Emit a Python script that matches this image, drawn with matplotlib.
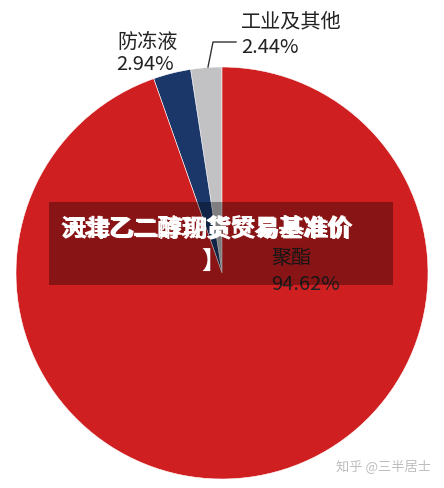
import matplotlib
matplotlib.use('Agg')
import matplotlib.pyplot as plt
from matplotlib.patches import Rectangle

plt.rcParams['font.family'] = ['Noto Sans CJK SC', 'DejaVu Sans']

# pie data (drawn counter-clockwise from the top)
labels = ['工业及其他', '防冻液', '聚酯']
shares = [2.44, 2.94, 94.62]
colors = ['#c2c2c4', '#1b3769', '#d01f20']

banner_a = '河北乙二醇现货贸易基准价'
banner_b = '天津乙二醇期货交易基准价'
watermark = '知乎 @三半居士'

W, H = 444, 489
fig = plt.figure(figsize=(W / 100, H / 100), dpi=100)
ax = fig.add_axes([0, 0, 1, 1])

# pixel coords (y down) -> axes coords (y up)
def py(y):
    return H - y

ax.pie(shares, colors=colors, startangle=90, counterclock=True,
       center=(222, py(274)), radius=206, frame=True,
       wedgeprops=dict(edgecolor='white', linewidth=0.4))
ax.set_xlim(0, W)
ax.set_ylim(0, H)
ax.axis('off')

txt = '#222222'
kw = dict(fontsize=14.5, color=txt, ha='left', va='center', fontweight='medium')
ax.text(241, py(22), labels[0], **kw)
ax.text(241, py(48), f'{shares[0]:.2f}%', **kw)
ax.text(117, py(42), labels[1], **kw)
ax.text(116, py(65), f'{shares[1]:.2f}%', **kw)
ax.text(271, py(259), labels[2], **kw)
ax.text(271, py(285), f'{shares[2]:.2f}%', **kw)

# leader line for the small grey slice
ax.plot([208, 213, 236], [py(68), py(43), py(43)], color='#333333', lw=1)

# dark translucent banner over the chart
ax.add_patch(Rectangle((49, py(286)), 344, 83, facecolor='black', alpha=0.34,
                       edgecolor='none', zorder=5))
ax.text(206, py(228), banner_a, fontsize=17.5, fontweight='heavy', color='white',
        ha='center', va='center', zorder=6)
ax.text(208, py(229), banner_b, fontsize=17.5, fontweight='heavy', color='white',
        ha='center', va='center', zorder=6)
ax.text(213, py(262), '】', fontsize=17.5, fontweight='heavy', color='white',
        ha='center', va='center', zorder=6)

ax.text(384, py(466), watermark, fontsize=9.5, color='#bdbdbd',
        ha='center', va='center')

fig.savefig('out.png', dpi=100)
